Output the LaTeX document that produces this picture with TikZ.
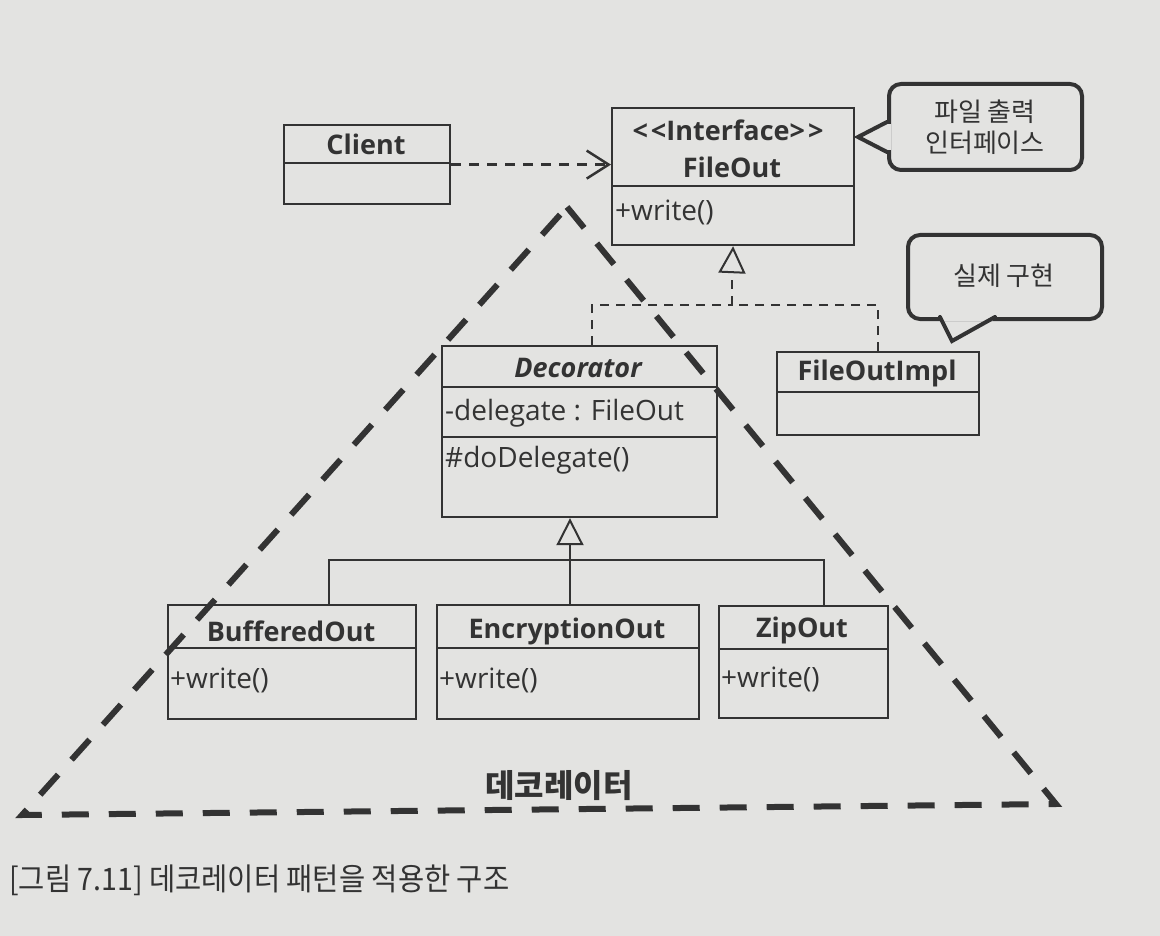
\documentclass[tikz,border=0pt]{standalone}
\usepackage{graphicx}
\usepackage{fontspec}
\setmainfont{Open Sans}
\newfontfamily\kr{Noto Sans CJK KR}
\usetikzlibrary{arrows.meta}
\definecolor{paper}{HTML}{E3E3E1}
\definecolor{ink}{HTML}{333333}
\begin{document}
\begin{tikzpicture}[x=1pt,y=-1pt,
  cls/.style={draw=ink, line width=2.2pt, inner sep=0pt, anchor=north west},
  divl/.style={draw=ink, line width=2.2pt},
  ctitle/.style={font=\fontsize{27}{32}\selectfont\bfseries, text=ink, inner sep=0pt},
  member/.style={font=\fontsize{28}{32}\selectfont, text=ink, inner sep=0pt, anchor=west},
  dep/.style={draw=ink, line width=2.5pt, dash pattern=on 10pt off 8pt,
    -{Straight Barb[length=22pt,width=28pt,line width=2.5pt]}},
  real/.style={draw=ink, line width=2pt, dash pattern=on 9pt off 7pt},
  gen/.style={draw=ink, line width=2pt},
  bubble/.style={draw=ink, line width=4pt, rounded corners=12pt, inner sep=0pt, anchor=north west},
  btext/.style={font=\kr\fontsize{26}{31}\selectfont, text=ink, align=center, inner sep=0pt},
  tri/.style={draw=ink, line width=6pt, dash pattern=on 27pt off 20pt},
]
\fill[paper] (0,0) rectangle (1160,936);
\useasboundingbox (0,0) rectangle (1160,936);

% Client
\node[cls, minimum width=166pt, minimum height=79pt] (client) at (283,124) {};
\node[ctitle] (clientT) at (366,144) {Client};
\draw[divl] (client.west |- 0,163) -- (client.east |- 0,163);

% FileOut
\node[cls, minimum width=242pt, minimum height=137pt] (fileout) at (611,107) {};
\node[ctitle] (fileoutS) at (728,130) {<\kern3pt<Interface>\kern3pt>};
\node[ctitle] (fileoutT) at (732,167) {FileOut};
\draw[divl] (fileout.west |- 0,186) -- (fileout.east |- 0,186);
\node[member] (fileoutM) at (615,212) {+write()};

% Decorator
\node[cls, minimum width=275pt, minimum height=171pt] (deco) at (441,345) {};
\node[ctitle, font=\fontsize{27}{32}\selectfont\bfseries\itshape] (decoT) at (578,368) {Decorator};
\draw[divl] (deco.west |- 0,387) -- (deco.east |- 0,387);
\node[member] (decoA) at (445,413) {-delegate : FileOut};
\draw[divl] (deco.west |- 0,437) -- (deco.east |- 0,437);
\node[member] (decoM) at (445,460) {\#doDelegate()};

% FileOutImpl
\node[cls, minimum width=202pt, minimum height=83pt] (impl) at (776,351) {};
\node[ctitle] (implT) at (877,373) {FileOutImpl};
\draw[divl] (impl.west |- 0,392) -- (impl.east |- 0,392);

% BufferedOut
\node[cls, minimum width=248pt, minimum height=114pt] (buf) at (167,604) {};
\node[ctitle] (bufT) at (291,631) {BufferedOut};
\draw[divl] (buf.west |- 0,648) -- (buf.east |- 0,648);
\node[member] (bufM) at (170,680) {+write()};

% EncryptionOut
\node[cls, minimum width=262pt, minimum height=114pt] (enc) at (436,604) {};
\node[ctitle] (encT) at (567,631) {EncryptionOut};
\draw[divl] (enc.west |- 0,648) -- (enc.east |- 0,648);
\node[member] (encM) at (439,680) {+write()};

% ZipOut
\node[cls, minimum width=169pt, minimum height=112pt] (zip) at (718,605) {};
\node[ctitle] (zipT) at (802,630) {ZipOut};
\draw[divl] (zip.west |- 0,649) -- (zip.east |- 0,649);
\node[member] (zipM) at (721,679) {+write()};

% dependency
\draw[dep] (client.east) -- (client.east -| fileout.west);

% realization
\coordinate (j) at (732,305);
\coordinate (jt) at (732,272);
\draw[real] ([xshift=12.5pt]deco.north) |- (j);
\draw[real] (impl.north) |- (j);
\draw[real] (j) -- (jt);
\draw[gen, -{Triangle[open,length=27pt,width=27pt]}] (jt) -- (fileout.south);

% generalization
\coordinate (g) at (570,560);
\draw[gen] ([xshift=37pt]buf.north) |- (g) -| ([xshift=20.5pt]zip.north);
\draw[gen] (g) -- (g |- enc.north);
\draw[gen, -{Triangle[open,length=27pt,width=27pt]}] (g) -- (g |- deco.south);

% callout 1
\node[bubble, minimum width=193pt, minimum height=86pt] (b1) at (887,82) {};
\fill[paper] (883,124) rectangle (891,150);
\draw[ink, line width=4pt, line cap=round, line join=miter] (887,122) -- (858,137) -- (887,152);
\node[btext] (b1T) at (985,127) {파일 출력\\인터페이스};

% callout 2
\node[bubble, minimum width=194pt, minimum height=84pt] (b2) at (906,233) {};
\fill[paper] (942,313) rectangle (993,321);
\draw[ink, line width=4pt, line cap=round, line join=miter] (940,317) -- (952,341) -- (995,317);
\node[btext] (b2T) at (1004,276) {실제 구현};

% decorator triangle
\draw[tri] (567,207) -- (1056,804) -- (22,815) -- cycle;
\node[font=\kr\bfseries\fontsize{32}{36}\selectfont, text=ink, inner sep=0pt] (triT) at (559,786) {데코레이터};

% caption
\node[anchor=west, inner sep=0pt, text=ink] (cap) at (9,880)
  {\scalebox{0.92}[1]{\kr\fontsize{31}{34}\selectfont [그림 7.11] 데코레이터 패턴을 적용한 구조}};
\end{tikzpicture}
\end{document}
